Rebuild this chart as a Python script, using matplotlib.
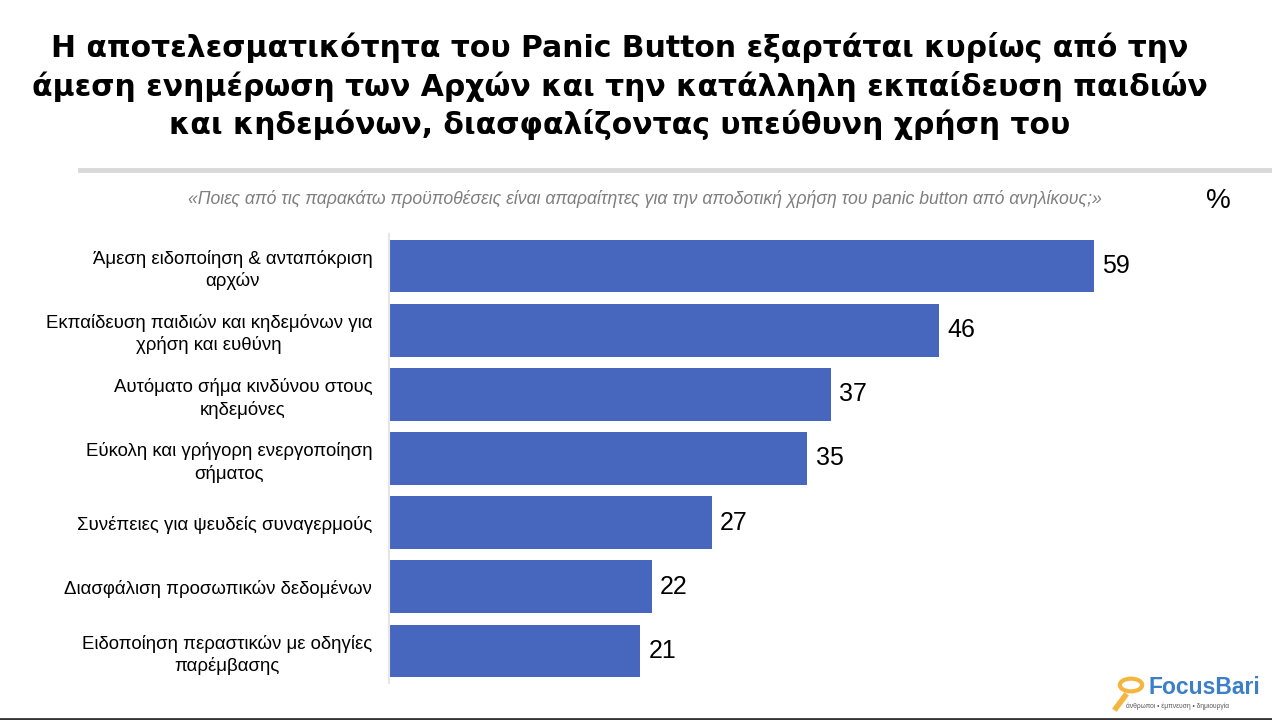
import matplotlib
matplotlib.use('Agg')
import matplotlib.pyplot as plt
from matplotlib.patches import Circle
from matplotlib.lines import Line2D

plt.rcParams['font.family'] = ['Liberation Sans', 'DejaVu Sans']

# data
labels = ['Άμεση ειδοποίηση & ανταπόκριση\nαρχών',
          'Εκπαίδευση παιδιών και κηδεμόνων για\nχρήση και ευθύνη',
          'Αυτόματο σήμα κινδύνου στους\nκηδεμόνες',
          'Εύκολη και γρήγορη ενεργοποίηση\nσήματος',
          'Συνέπειες για ψευδείς συναγερμούς',
          'Διασφάλιση προσωπικών δεδομένων',
          'Ειδοποίηση περαστικών με οδηγίες\nπαρέμβασης']
values = [59, 46, 37, 35, 27, 22, 21]

title = ('Η αποτελεσματικότητα του Panic Button εξαρτάται κυρίως από την\n'
         'άμεση ενημέρωση των Αρχών και την κατάλληλη εκπαίδευση παιδιών\n'
         'και κηδεμόνων, διασφαλίζοντας υπεύθυνη χρήση του')
question = ('«Ποιες από τις παρακάτω προϋποθέσεις είναι απαραίτητες για την '
            'αποδοτική χρήση του panic button από ανηλίκους;»')

bar_color = '#4766BE'

fig = plt.figure(figsize=(12.72, 7.2), dpi=100)
ax = fig.add_axes([0.3058, 0.0514, 0.6576, 0.6236])

y = list(range(len(values)))
ax.barh(y, values, height=0.82, color=bar_color)
ax.set_xlim(0, 70)
ax.set_ylim(len(values) - 0.5, -0.5)
ax.set_yticks(y)
ax.set_yticklabels(labels, fontsize=13.4, ha='right', multialignment='center',
                   linespacing=1.3)
ax.tick_params(axis='y', length=0, pad=12)
ax.set_xticks([])
for s in ['top', 'right', 'bottom']:
    ax.spines[s].set_visible(False)
ax.spines['left'].set_color('#e6e6e6')
ax.spines['left'].set_linewidth(1.5)

for yi, v in zip(y, values):
    ax.text(v + 0.7, yi, str(v), va='center', ha='left', fontsize=18, color='black')

# title and header
fig.text(0.487, 1 - 86 / 720, title, ha='center', va='center', fontsize=21.5,
         fontweight='bold', linespacing=1.3, family=['DejaVu Sans'])
fig.add_artist(Line2D([80 / 1272, 1.0], [1 - 170 / 720] * 2, color='#d9d9d9', lw=3.5))
fig.text(645 / 1272, 1 - 199 / 720, question, ha='center', va='center', fontsize=12.7,
         style='italic', color='#7f7f7f')
fig.text(1218 / 1272, 1 - 201 / 720, '%', ha='center', va='center', fontsize=20, color='black')

# bottom rule
fig.add_artist(Line2D([0, 1], [1 / 720, 1 / 720], color='#333333', lw=2))

# logo
fig.add_artist(Circle((1131 / 1272, 1 - 685 / 720), 0.0088, transform=fig.transFigure,
                      fill=False, ec='#f4b63f', lw=3))
fig.add_artist(Line2D([1125 / 1272, 1116 / 1272], [1 - 696 / 720, 1 - 708 / 720],
                      color='#f4b63f', lw=4))
fig.text(1149 / 1272, 1 - 688 / 720, 'FocusBari', ha='left', va='center', fontsize=16.5,
         fontweight='bold', color='#3a7fc8')
fig.text(1126 / 1272, 1 - 706 / 720, 'άνθρωποι • έμπνευση • δημιουργία', ha='left',
         va='center', fontsize=4.8, color='#555555')

fig.savefig('out.png', dpi=100)
